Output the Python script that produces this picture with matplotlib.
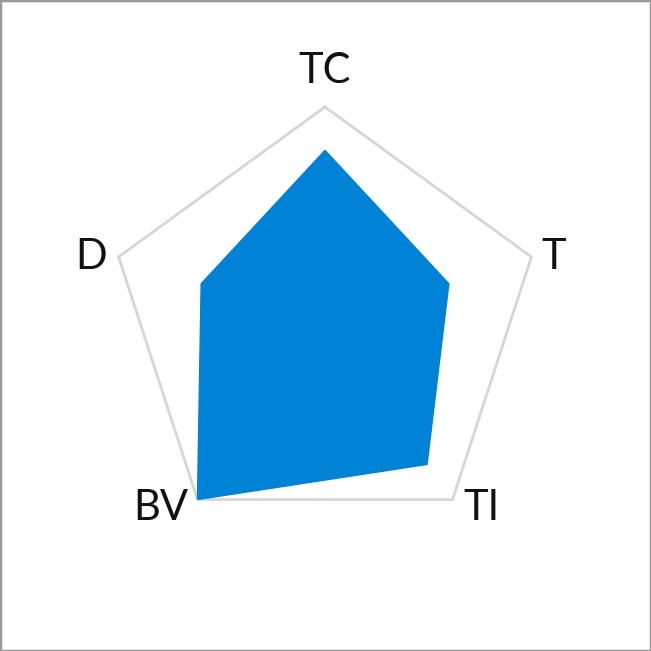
import numpy as np
import matplotlib.pyplot as plt
from matplotlib.patches import Rectangle

# radar data
categories = ['TC', 'T', 'TI', 'BV', 'D']
values = [0.8, 0.6, 0.8, 1.0, 0.6]

n = len(categories)
angles = np.linspace(0, 2 * np.pi, n, endpoint=False)
ang_closed = np.append(angles, angles[0])
val_closed = np.append(values, values[0])

fig = plt.figure(figsize=(6.51, 6.51), dpi=100)
ax = fig.add_axes([0.1659, 0.169, 0.6667, 0.6667], projection='polar')
ax.set_theta_offset(np.pi / 2)
ax.set_theta_direction(-1)
ax.set_ylim(0, 1)
ax.grid(False)
ax.spines['polar'].set_visible(False)
ax.set_xticks([])
ax.set_yticks([])
ax.patch.set_alpha(0)

# outer pentagon
ax.plot(ang_closed, np.ones_like(ang_closed), color='#d6d6d6', lw=2, clip_on=False)
# data polygon
ax.fill(ang_closed, val_closed, color='#0082d6', zorder=3)

# label placement next to each vertex
label_style = {
    'TC': ((0, 24), 'center', 'baseline'),
    'T': ((10, 0), 'left', 'center'),
    'TI': ((11, -8), 'left', 'center'),
    'BV': ((-9, -8), 'right', 'center'),
    'D': ((-12, 0), 'right', 'center'),
}
for a, lab in zip(angles, categories):
    off, ha, va = label_style[lab]
    ax.annotate(lab, xy=(a, 1), xytext=off, textcoords='offset pixels',
                ha=ha, va=va, fontsize=30, family=['Lato', 'DejaVu Sans'],
                color='#111111', annotation_clip=False)

fig.add_artist(Rectangle((0, 0), 1, 1, transform=fig.transFigure,
                         fill=False, ec='#9a9a9a', lw=2.5))

fig.savefig('out.png', dpi=100)
